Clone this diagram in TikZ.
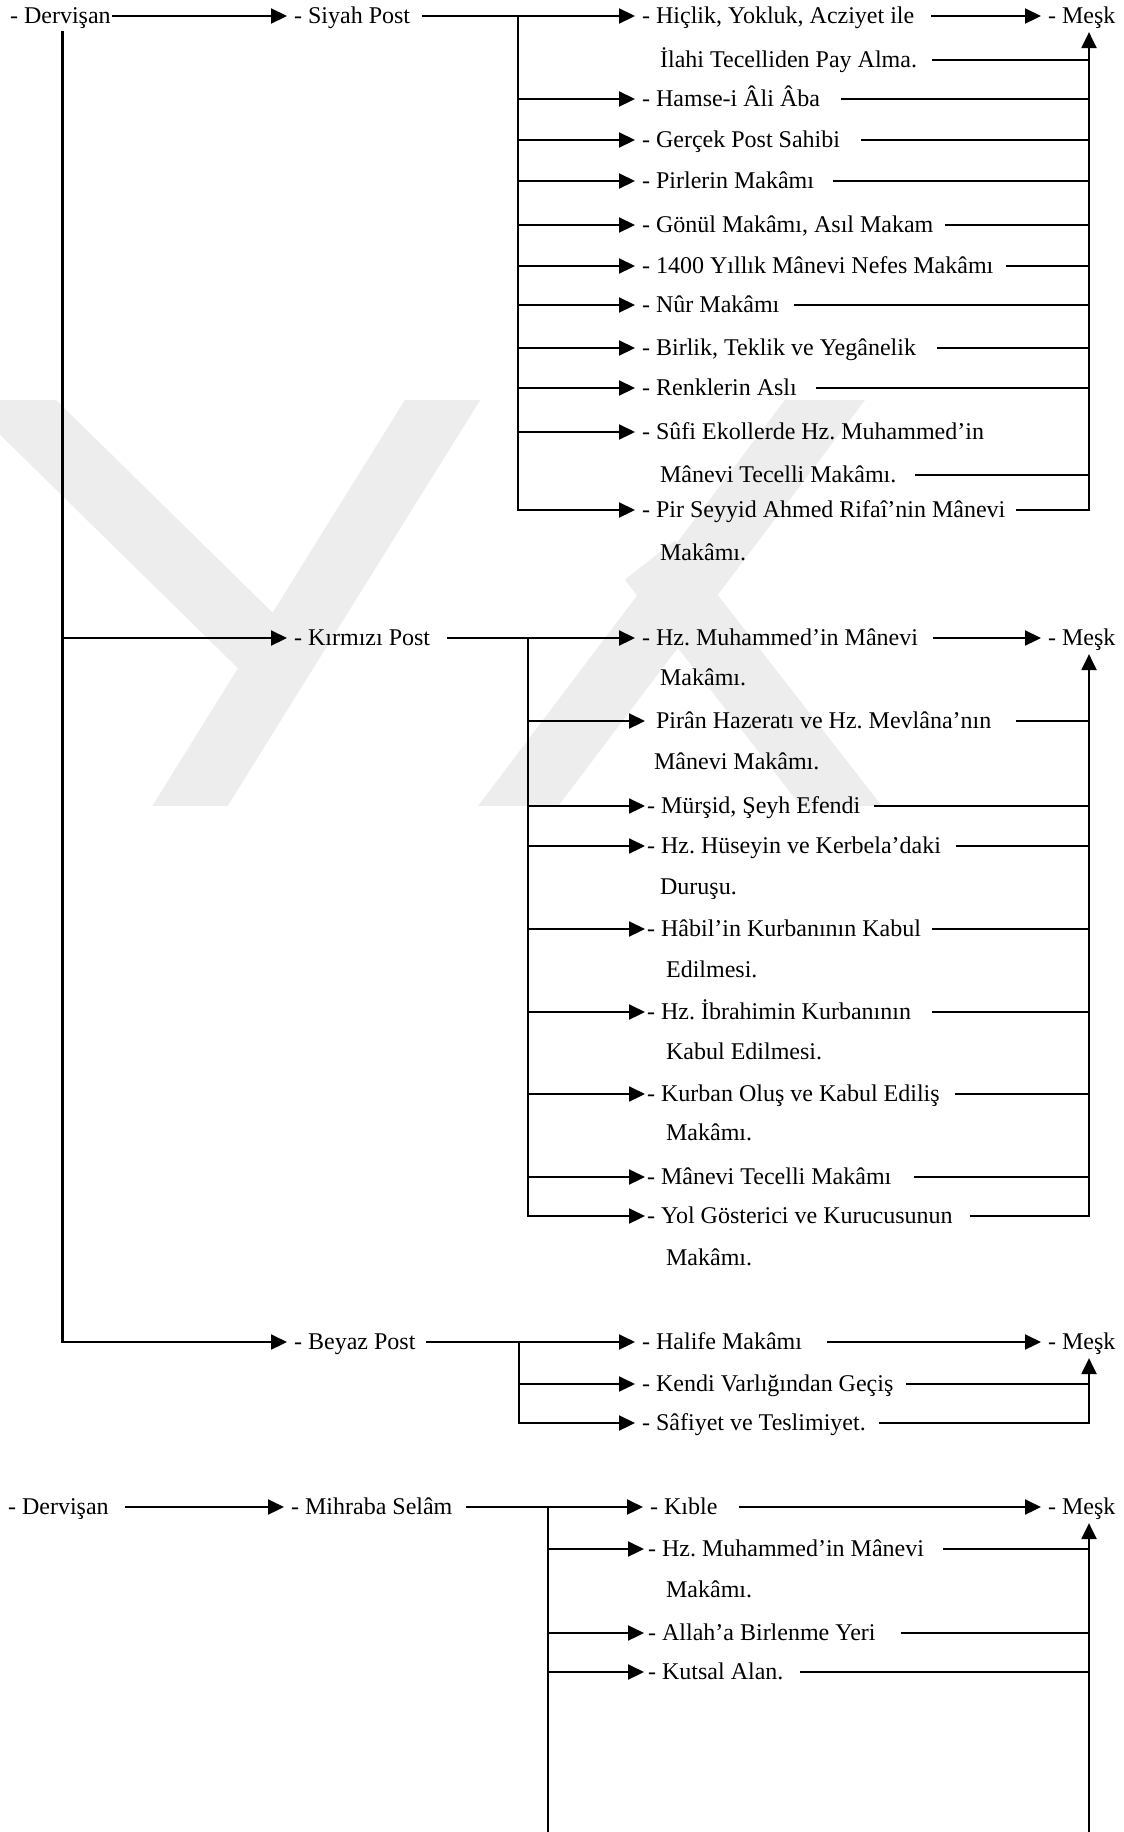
\documentclass[tikz,border=0pt]{standalone}
\usepackage{fontspec}
\setmainfont{Liberation Serif}
\frenchspacing
\usetikzlibrary{arrows.meta}

\begin{document}
\begin{tikzpicture}[x=1pt, y=-1pt, line width=2.2pt,
    txt/.style={anchor=west, inner sep=0pt, text height=16pt, text depth=2pt, font=\fontsize{24}{28}\selectfont},
    arr/.style={-{Triangle[length=16pt,width=15pt]}, shorten >=#1},
    arr/.default=6pt,
    gap/.style={shorten <=#1},
    gap/.default=14pt,
    wmark/.style={black!7, line width=64pt}]
  \path[use as bounding box] (0,0) coordinate (tl) rectangle (1124,1832) coordinate (br);

  % watermark
  \begin{scope}
    \clip (0,400) rectangle (1124,805);
    \draw[wmark] (-10,380) -- (265,650);
    \draw[wmark] (455,380) -- (175,830);
    \draw[wmark] (840,380) -- (500,830);
    \draw[wmark] (650,560) -- (860,830);
  \end{scope}

  \node[txt] (dv1) at (9,16) {- Dervişan};
  \node[txt] (siyah) at (293,16) {- Siyah Post};
  \node[txt] (kirmizi) at (293,638) {- Kırmızı Post};
  \node[txt] (beyaz) at (293,1342) {- Beyaz Post};
  \coordinate (dvx) at ([xshift=2pt,yshift=-5pt]dv1.south);
  \coordinate (mx) at (1089,0);

  \draw[arr] (dv1.east) -- (siyah.west);
  \draw[arr] (dvx |- kirmizi.west) -- (kirmizi.west);
  \draw[arr] (dvx) |- (beyaz.west);

  % siyah post
  \node[txt] (s1) at (641,16) {- Hiçlik, Yokluk, Acziyet ile};
  \node[txt] (s1b) at (659,60) {İlahi Tecelliden Pay Alma.};
  \node[txt] (s2) at (641,99) {- Hamse-i Âli Âba};
  \node[txt] (s3) at (641,140) {- Gerçek Post Sahibi};
  \node[txt] (s4) at (641,181) {- Pirlerin Makâmı};
  \node[txt] (s5) at (641,225) {- Gönül Makâmı, Asıl Makam};
  \node[txt] (s6) at (641,266) {- 1400 Yıllık Mânevi Nefes Makâmı};
  \node[txt] (s7) at (641,305) {- Nûr Makâmı};
  \node[txt] (s8) at (641,348) {- Birlik, Teklik ve Yegânelik};
  \node[txt] (s9) at (641,388) {- Renklerin Aslı};
  \node[txt] (s10) at (641,432) {- Sûfi Ekollerde Hz. Muhammed’in};
  \node[txt] (s10b) at (659,475) {Mânevi Tecelli Makâmı.};
  \node[txt] (s11) at (641,510) {- Pir Seyyid Ahmed Rifaî’nin Mânevi};
  \node[txt] (s11b) at (659,553) {Makâmı.};
  \node[txt] (m1) at (1047,16) {- Meşk};
  \coordinate (sx) at (518,16);

  \draw[arr, gap=11pt] (siyah.east) -- (s1.west);
  \draw[arr] (sx) |- (s11.west);
  \draw[arr] (sx |- s2.west) -- (s2.west);
  \draw[arr] (sx |- s3.west) -- (s3.west);
  \draw[arr] (sx |- s4.west) -- (s4.west);
  \draw[arr] (sx |- s5.west) -- (s5.west);
  \draw[arr] (sx |- s6.west) -- (s6.west);
  \draw[arr] (sx |- s7.west) -- (s7.west);
  \draw[arr] (sx |- s8.west) -- (s8.west);
  \draw[arr] (sx |- s9.west) -- (s9.west);
  \draw[arr] (sx |- s10.west) -- (s10.west);

  \draw[arr, gap=16pt] (s1.east) -- (m1.west);
  \draw[arr, gap=10pt] (s11.east) -| (mx |- m1.south);
  \draw[gap] (s1b.east) -- (mx |- s1b.east);
  \draw[gap=20pt] (s2.east) -- (mx |- s2.east);
  \draw[gap=20pt] (s3.east) -- (mx |- s3.east);
  \draw[gap=18pt] (s4.east) -- (mx |- s4.east);
  \draw[gap=10pt] (s5.east) -- (mx |- s5.east);
  \draw[gap=12pt] (s6.east) -- (mx |- s6.east);
  \draw[gap=13pt] (s7.east) -- (mx |- s7.east);
  \draw[gap=20pt] (s8.east) -- (mx |- s8.east);
  \draw[gap=18pt] (s9.east) -- (mx |- s9.east);
  \draw[gap=18pt] (s10b.east) -- (mx |- s10b.east);

  % kirmizi post
  \node[txt] (k1) at (641,638) {- Hz. Muhammed’in Mânevi};
  \node[txt] (k1b) at (659,678) {Makâmı.};
  \node[txt] (k2) at (655,721) {Pirân Hazeratı ve Hz. Mevlâna’nın};
  \node[txt] (k2b) at (653,762) {Mânevi Makâmı.};
  \node[txt] (k3) at (646,806) {- Mürşid, Şeyh Efendi};
  \node[txt] (k4) at (646,846) {- Hz. Hüseyin ve Kerbela’daki};
  \node[txt] (k4b) at (659,887) {Duruşu.};
  \node[txt] (k5) at (646,929) {- Hâbil’in Kurbanının Kabul};
  \node[txt] (k5b) at (665,970) {Edilmesi.};
  \node[txt] (k6) at (646,1012) {- Hz. İbrahimin Kurbanının};
  \node[txt] (k6b) at (665,1052) {Kabul Edilmesi.};
  \node[txt] (k7) at (646,1094) {- Kurban Oluş ve Kabul Ediliş};
  \node[txt] (k7b) at (665,1133) {Makâmı.};
  \node[txt] (k8) at (646,1177) {- Mânevi Tecelli Makâmı};
  \node[txt] (k9) at (646,1216) {- Yol Gösterici ve Kurucusunun};
  \node[txt] (k9b) at (665,1258) {Makâmı.};
  \node[txt] (m2) at (1047,638) {- Meşk};
  \coordinate (kx) at (528,638);

  \draw[arr, gap=16pt] (kirmizi.east) -- (k1.west);
  \draw[arr=1pt] (kx) |- (k9.west);
  \draw[arr=10pt] (kx |- k2.west) -- (k2.west);
  \draw[arr=1pt] (kx |- k3.west) -- (k3.west);
  \draw[arr=1pt] (kx |- k4.west) -- (k4.west);
  \draw[arr=1pt] (kx |- k5.west) -- (k5.west);
  \draw[arr=1pt] (kx |- k6.west) -- (k6.west);
  \draw[arr=1pt] (kx |- k7.west) -- (k7.west);
  \draw[arr=1pt] (kx |- k8.west) -- (k8.west);

  \draw[arr, gap=14pt] (k1.east) -- (m2.west);
  \draw[arr, gap=16pt] (k9.east) -| (mx |- m2.south);
  \draw[gap=24pt] (k2.east) -- (mx |- k2.east);
  \draw[gap=12pt] (k3.east) -- (mx |- k3.east);
  \draw[gap] (k4.east) -- (mx |- k4.east);
  \draw[gap=10pt] (k5.east) -- (mx |- k5.east);
  \draw[gap=20pt] (k6.east) -- (mx |- k6.east);
  \draw[gap] (k7.east) -- (mx |- k7.east);
  \draw[gap=22pt] (k8.east) -- (mx |- k8.east);

  % beyaz post
  \node[txt] (b1) at (641,1342) {- Halife Makâmı};
  \node[txt] (b2) at (641,1384) {- Kendi Varlığından Geçiş};
  \node[txt] (b3) at (641,1423) {- Sâfiyet ve Teslimiyet.};
  \node[txt] (m3) at (1047,1342) {- Meşk};
  \coordinate (bx) at (519,1342);

  \draw[arr, gap=9pt] (beyaz.east) -- (b1.west);
  \draw[arr] (bx) |- (b3.west);
  \draw[arr] (bx |- b2.west) -- (b2.west);
  \draw[arr, gap=24pt] (b1.east) -- (m3.west);
  \draw[arr, gap=12pt] (b3.east) -| (mx |- m3.south);
  \draw[gap=12pt] (b2.east) -- (mx |- b2.east);

  % mihraba selam
  \node[txt] (dv2) at (7,1507) {- Dervişan};
  \node[txt] (mihrab) at (290,1507) {- Mihraba Selâm};
  \node[txt] (c1) at (649,1507) {- Kıble};
  \node[txt] (c2) at (647,1549) {- Hz. Muhammed’in Mânevi};
  \node[txt] (c2b) at (665,1590) {Makâmı.};
  \node[txt] (c3) at (647,1633) {- Allah’a Birlenme Yeri};
  \node[txt] (c4) at (647,1672) {- Kutsal Alan.};
  \node[txt] (m4) at (1047,1507) {- Meşk};
  \coordinate (cx) at (548,1507);

  \draw[arr, gap=15pt] (dv2.east) -- (mihrab.west);
  \draw[arr, gap=13pt] (mihrab.east) -- (c1.west);
  \draw (cx) -- (cx |- br);
  \draw[arr=3pt] (cx |- c2.west) -- (c2.west);
  \draw[arr=3pt] (cx |- c3.west) -- (c3.west);
  \draw[arr=3pt] (cx |- c4.west) -- (c4.west);
  \draw[arr, gap=20pt] (c1.east) -- (m4.west);
  \draw[arr] (mx |- br) -- (mx |- m4.south);
  \draw[gap=18pt] (c2.east) -- (mx |- c2.east);
  \draw[gap=24pt] (c3.east) -- (mx |- c3.east);
  \draw[gap=15pt] (c4.east) -- (mx |- c4.east);
\end{tikzpicture}
\end{document}
